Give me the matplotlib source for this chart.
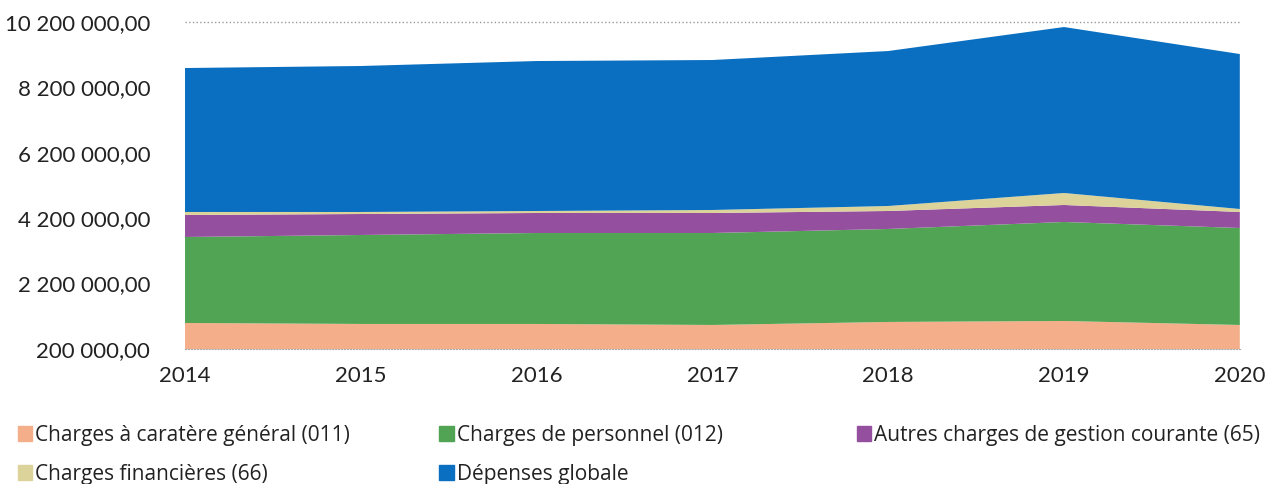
import matplotlib.pyplot as plt
from matplotlib.patches import Patch
from matplotlib.ticker import FuncFormatter

years = [2014, 2015, 2016, 2017, 2018, 2019, 2020]
charges_011 = [995000, 965000, 965000, 934000, 1026000, 1056000, 934000]
charges_012 = [2630000, 2721000, 2782000, 2813000, 2844000, 3028000, 2966000]
charges_65 = [673000, 642000, 612000, 612000, 550000, 520000, 490000]
charges_66 = [92000, 62000, 61000, 92000, 153000, 367000, 91000]
depenses_globale = [4403000, 4465000, 4587000, 4587000, 4740000, 5076000, 4740000]

labels = ["Charges à caratère général (011)", "Charges de personnel (012)",
          "Autres charges de gestion courante (65)", "Charges financières (66)",
          "Dépenses globale"]
colors = ["#f4ae8a", "#52a455", "#94509f", "#dcd39a", "#0a6fc0"]

def fmt(v, pos):
    s = f"{int(round(v)):,}".replace(",", " ")
    return s + ",00"

fig = plt.figure(figsize=(12.69, 4.84), dpi=100)
ax = fig.add_axes([0.1458, 0.279, 0.977 - 0.1458, 0.9545 - 0.279])

ax.stackplot(years, charges_011, charges_012, charges_65, charges_66, depenses_globale,
             colors=colors, linewidth=0)

ax.set_xlim(2014, 2020)
ax.set_ylim(200000, 10200000)
ax.set_yticks(range(200000, 10200001, 2000000))
ax.yaxis.set_major_formatter(FuncFormatter(fmt))
ax.set_xticks(years)
ax.tick_params(length=0, labelsize=16, colors="#222222")
ax.tick_params(axis="x", pad=12)
ax.tick_params(axis="y", pad=25)
for lab in ax.get_xticklabels() + ax.get_yticklabels():
    lab.set_family("Lato")

for s in ["top", "right", "left"]:
    ax.spines[s].set_visible(False)
ax.spines["bottom"].set_color("#aaaaaa")
ax.spines["bottom"].set_linestyle(":")
ax.axhline(10200000, color="#999999", linestyle=":", linewidth=1, clip_on=False)

# legend in three fixed-width columns, filled row by row
handles = [Patch(color=c) for c in colors]
columns = [([0, 3], 0.014), ([1, 4], 0.346), ([2], 0.675)]
for idx, x0 in columns:
    leg = fig.legend([handles[i] for i in idx], [labels[i] for i in idx],
                     loc="upper left", bbox_to_anchor=(x0, 0.122),
                     frameon=False, prop={"family": "Open Sans", "size": 15},
                     handlelength=0.7, handleheight=0.7, handletextpad=0.15,
                     labelspacing=0.85, borderpad=0, borderaxespad=0)
    for t in leg.get_texts():
        t.set_color("#222222")

fig.savefig("out.png", dpi=100)
